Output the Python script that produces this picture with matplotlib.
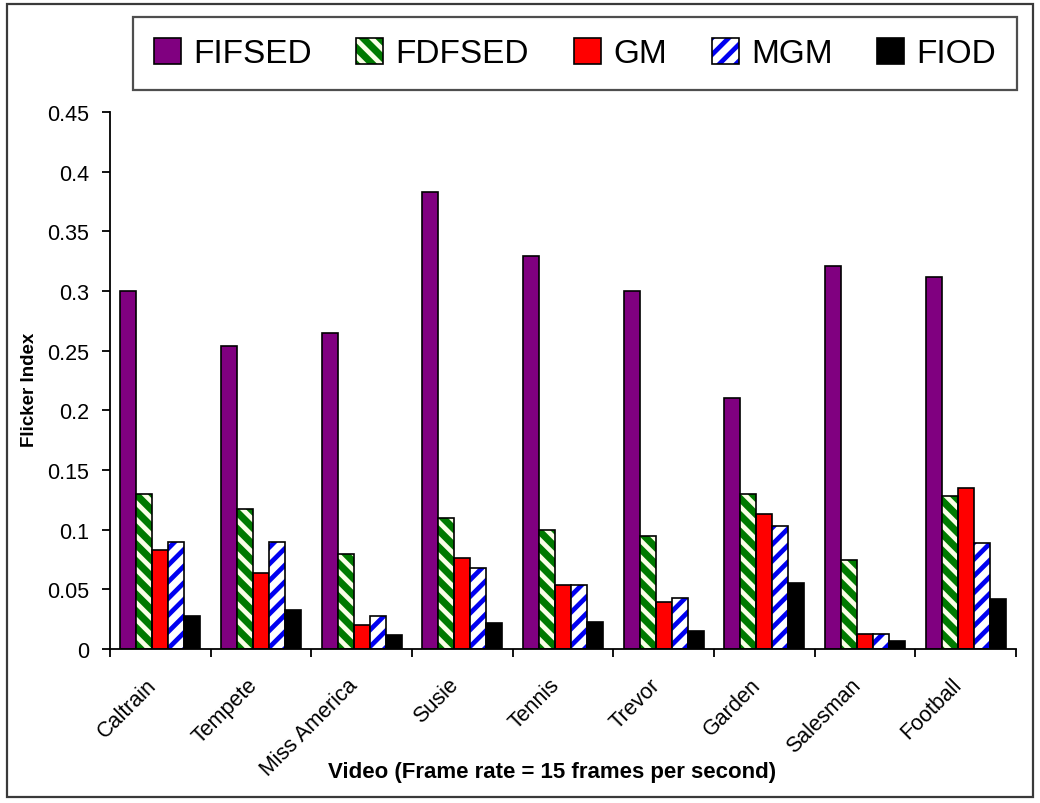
import matplotlib
matplotlib.use("Agg")
import matplotlib.pyplot as plt
from matplotlib.patches import Patch, Rectangle
from matplotlib.ticker import FixedLocator, FuncFormatter
from matplotlib.legend_handler import HandlerTuple
from matplotlib.transforms import ScaledTranslation
import numpy as np

# ---- data -------------------------------------------------------------
videos = ["Caltrain", "Tempete", "Miss America", "Susie", "Tennis",
          "Trevor", "Garden", "Salesman", "Football"]
series_names = ["FIFSED", "FDFSED", "GM", "MGM", "FIOD"]
fifsed = [0.300, 0.254, 0.265, 0.383, 0.329, 0.300, 0.210, 0.321, 0.312]
fdfsed = [0.130, 0.117, 0.080, 0.110, 0.100, 0.095, 0.130, 0.075, 0.128]
gm = [0.083, 0.064, 0.020, 0.076, 0.054, 0.039, 0.113, 0.0125, 0.135]
mgm = [0.090, 0.090, 0.028, 0.068, 0.054, 0.043, 0.103, 0.0125, 0.089]
fiod = [0.028, 0.033, 0.012, 0.022, 0.023, 0.015, 0.055, 0.007, 0.042]
y_ticks = [0, 0.05, 0.1, 0.15, 0.2, 0.25, 0.3, 0.35, 0.4, 0.45]

# ---- styling ----------------------------------------------------------
plt.rcParams["font.family"] = ["Liberation Sans", "DejaVu Sans"]
plt.rcParams["hatch.linewidth"] = 3.4

# (face, hatch, hatch colour)
styles = [
    ("#800080", None, None),
    ("#007A00", "\\\\", "#FAFFE6"),
    ("#FF0000", None, None),
    ("#FFFFFF", "//", "#0000F0"),
    ("#000000", None, None),
]
values = [fifsed, fdfsed, gm, mgm, fiod]

W, H = 1040, 804
fig = plt.figure(figsize=(W / 100, H / 100), dpi=100)
ax = fig.add_axes([110 / W, 1 - 650 / H, (1016 - 110) / W, (650 - 113) / H])

x = np.arange(len(videos))
bw = 0.159
legend_handles = []
for i, (vals, (face, hatch, hcol)) in enumerate(zip(values, styles)):
    pos = x + (i - 2) * bw
    if hatch:
        ax.bar(pos, vals, bw, color=face, edgecolor=hcol, linewidth=0,
               hatch=hatch, zorder=2)
        ax.bar(pos, vals, bw, facecolor="none", edgecolor="black",
               linewidth=1.2, zorder=3)
        h = (Patch(facecolor=face, edgecolor=hcol, hatch=hatch, linewidth=0),
             Patch(facecolor="none", edgecolor="black", linewidth=1.2))
    else:
        ax.bar(pos, vals, bw, color=face, edgecolor="black", linewidth=1.2,
               zorder=2)
        h = Patch(facecolor=face, edgecolor="black", linewidth=1.2)
    legend_handles.append(h)

ax.set_xlim(-0.5, len(videos) - 0.5)
ax.set_ylim(0, 0.45)
for s in ("top", "right"):
    ax.spines[s].set_visible(False)
for s in ("left", "bottom"):
    ax.spines[s].set_linewidth(1.3)

ax.yaxis.set_major_locator(FixedLocator(y_ticks))
ax.yaxis.set_major_formatter(FuncFormatter(lambda v, p: f"{v:g}"))
ax.tick_params(axis="y", direction="out", length=6, width=1.3, pad=9,
               labelsize=15.5)

ax.set_xticks(x)
ax.set_xticks(np.arange(len(videos) + 1) - 0.5, minor=True)
ax.tick_params(axis="x", which="major", length=0, pad=14, labelsize=15.5)
ax.tick_params(axis="x", which="minor", direction="out", length=6, width=1.3)
ax.set_xticklabels(videos, rotation=45, ha="right", va="center",
                   rotation_mode="anchor")
shift = ScaledTranslation(-7 / 100, -13 / 100, fig.dpi_scale_trans)
for lbl in ax.get_xticklabels():
    lbl.set_transform(lbl.get_transform() + shift)

ax.set_ylabel("Flicker Index", fontsize=13.5, fontweight="bold")
ax.yaxis.set_label_coords((30 - 110) / 906, (650 - 390) / 537)
ax.yaxis.label.set_va("center")
ax.set_xlabel("Video (Frame rate = 15 frames per second)", fontsize=16,
              fontweight="bold")
ax.xaxis.set_label_coords((552 - 110) / 906, (650 - 762) / 537)

leg = fig.legend(legend_handles, series_names, loc="center",
                 bbox_to_anchor=(133 / W, 1 - 96 / H, 884 / W, 83 / H),
                 mode="expand", ncol=5, frameon=True, fancybox=False,
                 shadow=False, prop={"size": 24},
                 handlelength=0.81, handleheight=0.81, handletextpad=0.37,
                 columnspacing=1.5, borderpad=0.62, borderaxespad=0,
                 handler_map={tuple: HandlerTuple(ndivide=1)})
leg.get_frame().set_edgecolor("#222222")
leg.get_frame().set_linewidth(1.6)

# outer chart-area border
fig.patches.append(Rectangle((7 / W, 1 - 798 / H), (1033 - 7) / W,
                             (798 - 5) / H, transform=fig.transFigure,
                             facecolor="none", edgecolor="#3a3a3a",
                             linewidth=1.6))

fig.savefig("out.png", dpi=100)
